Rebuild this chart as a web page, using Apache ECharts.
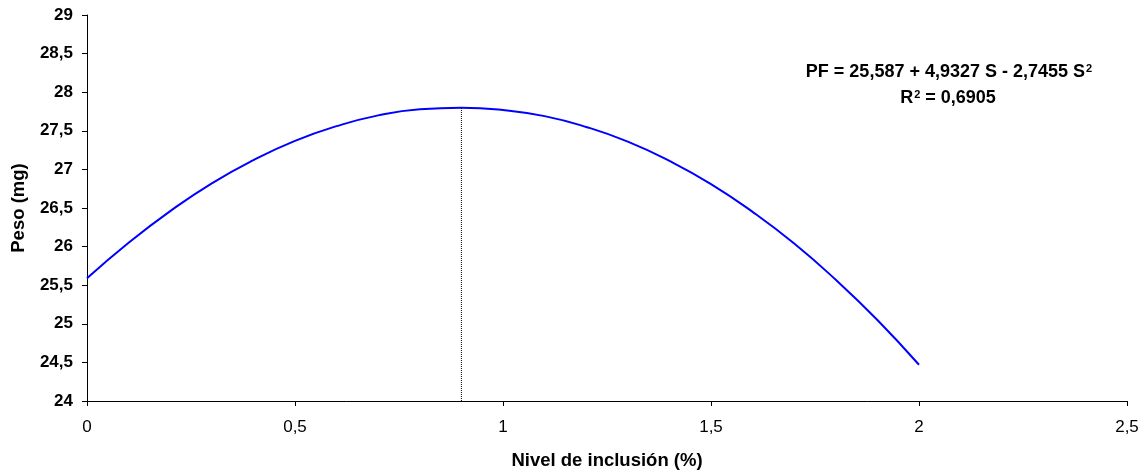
<!DOCTYPE html>
<html>
<head>
<meta charset="utf-8">
<script src="https://cdn.jsdelivr.net/npm/echarts@6/dist/echarts.min.js"></script>
<style>
html,body{margin:0;padding:0;background:#fff;}
#chart{width:1143px;height:475px;}
</style>
</head>
<body>
<div id="chart"></div>
<script>
// Values
const xValues = [0, 0.1, 0.2, 0.3, 0.4, 0.5, 0.6, 0.7, 0.8, 0.9, 1.0, 1.1, 1.2, 1.3, 1.4, 1.5, 1.6, 1.7, 1.8, 1.9, 2.0];
const pesoValues = [25.59, 26.05, 26.46, 26.82, 27.12, 27.37, 27.56, 27.70, 27.78, 27.80, 27.77, 27.69, 27.55, 27.36, 27.11, 26.81, 26.45, 26.04, 25.57, 25.05, 24.47];
const optimumX = [0.9, 0.9];
const optimumY = [24, 27.80];
const equationText = 'PF = 25,587 + 4,9327 S - 2,7455 S';
const r2Text = ' = 0,6905';
const xAxisTitle = 'Nivel de inclusión (%)';
const yAxisTitle = 'Peso (mg)';

const fmt = v => String(v).replace('.', ',');
const FONT = '"Liberation Sans", Arial, sans-serif';

const rich = {
  t: { fontFamily: FONT, fontWeight: 'bold', fontSize: 18, fill: '#000', lineHeight: 22, verticalAlign: 'middle' },
  s: { fontFamily: FONT, fontWeight: 'bold', fontSize: 11, fill: '#000', lineHeight: 11, verticalAlign: 'top', padding: [2, 0, 0, 1] }
};

const chart = echarts.init(document.getElementById('chart'));
chart.setOption({
  animation: false,
  backgroundColor: '#fff',
  grid: { left: 87, right: 16, top: 15, bottom: 71 },
  xAxis: {
    type: 'value', min: 0, max: 2.5, interval: 0.5,
    name: xAxisTitle, nameLocation: 'middle', nameGap: 50,
    nameTextStyle: { fontFamily: FONT, fontWeight: 'bold', fontSize: 18.5, color: '#000' },
    axisLine: { lineStyle: { color: '#000', width: 1 } },
    axisTick: { show: true, length: 5, lineStyle: { color: '#000' } },
    axisLabel: { formatter: fmt, fontFamily: FONT, fontSize: 17, color: '#000', margin: 18 },
    splitLine: { show: false }
  },
  yAxis: {
    type: 'value', min: 24, max: 29, interval: 0.5,
    name: yAxisTitle, nameLocation: 'middle', nameGap: 59, nameRotate: 90,
    nameTextStyle: { fontFamily: FONT, fontWeight: 'bold', fontSize: 18.5, color: '#000' },
    axisLine: { show: true, lineStyle: { color: '#000', width: 1 } },
    axisTick: { show: true, length: 5, lineStyle: { color: '#000' } },
    axisLabel: { formatter: fmt, fontFamily: FONT, fontSize: 17, fontWeight: 'bold', color: '#000', margin: 14 },
    splitLine: { show: false }
  },
  graphic: [
    {
      type: 'text', x: 949, y: 72,
      style: { text: '{t|' + equationText + '}{s|2}', align: 'center', verticalAlign: 'middle', rich: rich }
    },
    {
      type: 'text', x: 948, y: 98,
      style: { text: '{t|R}{s|2}{t|' + r2Text + '}', align: 'center', verticalAlign: 'middle', rich: rich }
    }
  ],
  series: [
    {
      type: 'line', smooth: true, showSymbol: false,
      data: xValues.map((x, i) => [x, pesoValues[i]]),
      lineStyle: { color: '#0000ff', width: 2 }
    },
    {
      type: 'line', showSymbol: false,
      data: optimumX.map((x, i) => [x, optimumY[i]]),
      lineStyle: { color: '#000', width: 1, type: [1, 1] }
    }
  ]
});
</script>
</body>
</html>
